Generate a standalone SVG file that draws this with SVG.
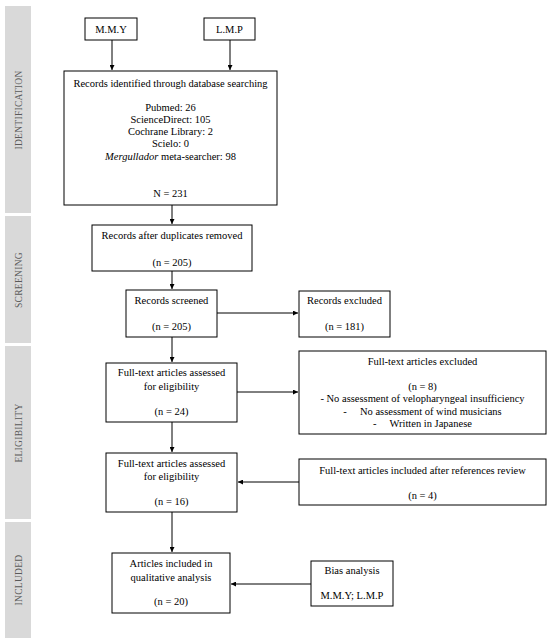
<svg xmlns="http://www.w3.org/2000/svg" width="550" height="642" viewBox="0 0 550 642">
<defs>
<marker id="ah" viewBox="0 0 10 10" refX="10" refY="5" markerWidth="5" markerHeight="5" orient="auto" markerUnits="userSpaceOnUse">
<path d="M0,0 L10,5 L0,10 z" fill="#000"/>
</marker>
</defs>
<style>
.bar{fill:#d9d9d9}
.side{font-family:"Liberation Serif",serif;font-size:9.5px;fill:#595959;text-anchor:middle;letter-spacing:0.3px}
.box{fill:#fff;stroke:#000;stroke-width:1}
.t{font-family:"Liberation Serif",serif;font-size:10.5px;fill:#000;text-anchor:middle}
.c{stroke:#000;stroke-width:1;fill:none}
</style>
<rect width="550" height="642" fill="#fff"/>
<g id="phases">
<rect class="bar" x="5" y="6" width="26" height="207"/>
<rect class="bar" x="5" y="216" width="26" height="127"/>
<rect class="bar" x="5" y="346" width="26" height="173"/>
<rect class="bar" x="5" y="522" width="26" height="116"/>
<text class="side" transform="translate(21.5,110) rotate(-90)">IDENTIFICATION</text>
<text class="side" transform="translate(21.5,280) rotate(-90)">SCREENING</text>
<text class="side" transform="translate(21.5,433) rotate(-90)">ELIGIBILITY</text>
<text class="side" transform="translate(21.5,580) rotate(-90)">INCLUDED</text>
</g>
<g id="connectors">
<line class="c" x1="112" y1="40" x2="112" y2="70" marker-end="url(#ah)"/>
<line class="c" x1="230" y1="40" x2="230" y2="70" marker-end="url(#ah)"/>
<line class="c" x1="172" y1="205" x2="172" y2="224" marker-end="url(#ah)"/>
<line class="c" x1="172" y1="271" x2="172" y2="289" marker-end="url(#ah)"/>
<line class="c" x1="217" y1="313" x2="298" y2="313" marker-end="url(#ah)"/>
<line class="c" x1="172" y1="337" x2="172" y2="362" marker-end="url(#ah)"/>
<line class="c" x1="237" y1="392" x2="298" y2="392" marker-end="url(#ah)"/>
<line class="c" x1="172" y1="422" x2="172" y2="452" marker-end="url(#ah)"/>
<line class="c" x1="299" y1="482" x2="238" y2="482" marker-end="url(#ah)"/>
<line class="c" x1="172" y1="512" x2="172" y2="552" marker-end="url(#ah)"/>
<line class="c" x1="311" y1="584" x2="231" y2="584" marker-end="url(#ah)"/>
</g>
<g id="mmy">
<rect class="box" x="85" y="18" width="52" height="22"/>
<text class="t" x="111" y="33">M.M.Y</text>
</g>
<g id="lmp">
<rect class="box" x="204" y="18" width="51" height="22"/>
<text class="t" x="229.5" y="33">L.M.P</text>
</g>
<g id="identified">
<rect class="box" x="64" y="71" width="213" height="134"/>
<text class="t" x="170.5" y="87">Records identified  through database searching</text>
<text class="t" x="170.5" y="111">Pubmed: 26</text>
<text class="t" x="170.5" y="123">ScienceDirect: 105</text>
<text class="t" x="170.5" y="135">Cochrane Library: 2</text>
<text class="t" x="170.5" y="147">Scielo: 0</text>
<text class="t" x="170.5" y="160"><tspan font-style="italic">Mergullador</tspan> meta-searcher: 98</text>
<text class="t" x="170.5" y="197">N = 231</text>
</g>
<g id="duplicates">
<rect class="box" x="92" y="225" width="160" height="46"/>
<text class="t" x="172" y="239">Records after duplicates removed</text>
<text class="t" x="172" y="266">(n = 205)</text>
</g>
<g id="screened">
<rect class="box" x="126" y="290" width="91" height="47"/>
<text class="t" x="171.5" y="304">Records screened</text>
<text class="t" x="171.5" y="330">(n = 205)</text>
</g>
<g id="excluded">
<rect class="box" x="299" y="291" width="91" height="46"/>
<text class="t" x="344.5" y="304">Records excluded</text>
<text class="t" x="344.5" y="330">(n = 181)</text>
</g>
<g id="assessed1">
<rect class="box" x="106" y="363" width="131" height="59"/>
<text class="t" x="171.5" y="376">Full-text  articles assessed</text>
<text class="t" x="171.5" y="390">for eligibility</text>
<text class="t" x="171.5" y="415">(n = 24)</text>
</g>
<g id="ftexcluded">
<rect class="box" x="299" y="351" width="247" height="83"/>
<text class="t" x="422.5" y="365">Full-text  articles excluded</text>
<text class="t" x="422.5" y="390">(n = 8)</text>
<text class="t" x="422.5" y="402">- No assessment of velopharyngeal insufficiency</text>
<text class="t" x="422.5" y="415" xml:space="preserve">-     No assessment of wind musicians</text>
<text class="t" x="422.5" y="427" xml:space="preserve">-     Written in Japanese</text>
</g>
<g id="assessed2">
<rect class="box" x="106" y="453" width="131" height="59"/>
<text class="t" x="171.5" y="467">Full-text  articles assessed</text>
<text class="t" x="171.5" y="480">for eligibility</text>
<text class="t" x="171.5" y="505">(n = 16)</text>
</g>
<g id="refreview">
<rect class="box" x="299" y="459" width="247" height="46"/>
<text class="t" x="422.5" y="474">Full-text  articles included after references review</text>
<text class="t" x="422.5" y="499">(n = 4)</text>
</g>
<g id="included">
<rect class="box" x="112" y="553" width="118" height="60"/>
<text class="t" x="171" y="567">Articles included in</text>
<text class="t" x="171" y="581">qualitative analysis</text>
<text class="t" x="171" y="605">(n = 20)</text>
</g>
<g id="bias">
<rect class="box" x="311" y="561" width="82" height="45"/>
<text class="t" x="352" y="574">Bias analysis</text>
<text class="t" x="352" y="599">M.M.Y; L.M.P</text>
</g>
</svg>
